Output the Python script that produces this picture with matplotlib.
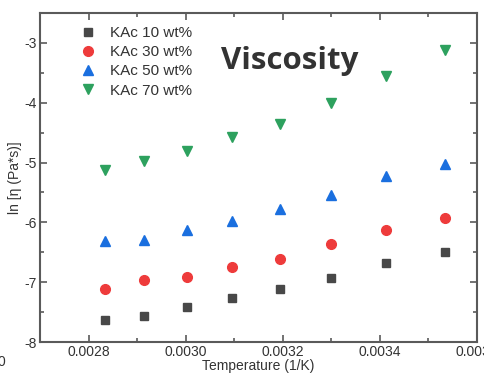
import matplotlib.pyplot as plt
from matplotlib.ticker import MultipleLocator

plt.rcParams['font.family'] = ['Liberation Sans', 'DejaVu Sans']
plt.rcParams['axes.unicode_minus'] = False

# inverse temperature (1/K)
inv_T = [0.002833, 0.002915, 0.003003, 0.003096, 0.003195, 0.003300, 0.003413, 0.003534]

# ln viscosity
kac10 = [-7.64, -7.57, -7.41, -7.27, -7.12, -6.93, -6.68, -6.49]
kac30 = [-7.12, -6.96, -6.92, -6.75, -6.62, -6.37, -6.12, -5.92]
kac50 = [-6.31, -6.30, -6.12, -5.97, -5.78, -5.54, -5.23, -5.02]
kac70 = [-5.13, -4.97, -4.81, -4.58, -4.35, -4.00, -3.55, -3.12]

labels = ["KAc 10 wt%", "KAc 30 wt%", "KAc 50 wt%", "KAc 70 wt%"]

fig = plt.figure(figsize=(4.85, 3.73), dpi=100)
ax = fig.add_axes([40/485, 31/373, 437/485, 329/373])

ax.plot(inv_T, kac10, 's', ms=5.5, color='#484848', label=labels[0])
ax.plot(inv_T, kac30, 'o', ms=7, color='#ee3b3b', label=labels[1])
ax.plot(inv_T, kac50, '^', ms=7.5, color='#1a6fdf', label=labels[2])
ax.plot(inv_T, kac70, 'v', ms=7.5, color='#2da15e', label=labels[3])

ax.set_xlim(0.0027, 0.0036)
ax.set_ylim(-8, -2.5)
ax.xaxis.set_major_locator(MultipleLocator(0.0002))
ax.xaxis.set_minor_locator(MultipleLocator(0.0001))
ax.yaxis.set_major_locator(MultipleLocator(1))
ax.yaxis.set_minor_locator(MultipleLocator(0.5))
ax.xaxis.set_major_formatter(plt.FuncFormatter(lambda v, p: f"{v:.4f}"))

for s in ax.spines.values():
    s.set_color('#5a5a5a')
    s.set_linewidth(1.5)
ax.tick_params(which='both', direction='in', top=True, right=True,
               colors='#5a5a5a', labelcolor='#333333', labelsize=10, pad=2)
ax.tick_params(which='major', length=5, width=1.2)
ax.tick_params(which='minor', length=3, width=1.2)

ax.set_xlabel("Temperature (1/K)", fontsize=10, color='#333333', labelpad=0)
ax.set_ylabel("ln [η (Pa*s)]", fontsize=10, color='#333333', labelpad=2)

ax.legend(loc='upper left', bbox_to_anchor=(0.06, 1.0), frameon=False, fontsize=11,
          handletextpad=0.8, labelspacing=0.34, borderaxespad=0.45, labelcolor='#333333',
          handlelength=1.2)

ax.text(0.415, 0.853, "Viscosity", transform=ax.transAxes, fontsize=22.5, fontweight='bold',
        family=['Open Sans', 'DejaVu Sans'], color='#333333', ha='left', va='center')

# clipped leftover label at the lower left edge
fig.text(-0.006, 1 - 362/373, "0", fontsize=10, color='#333333', va='center', ha='left')

fig.savefig("out.png", dpi=100)
